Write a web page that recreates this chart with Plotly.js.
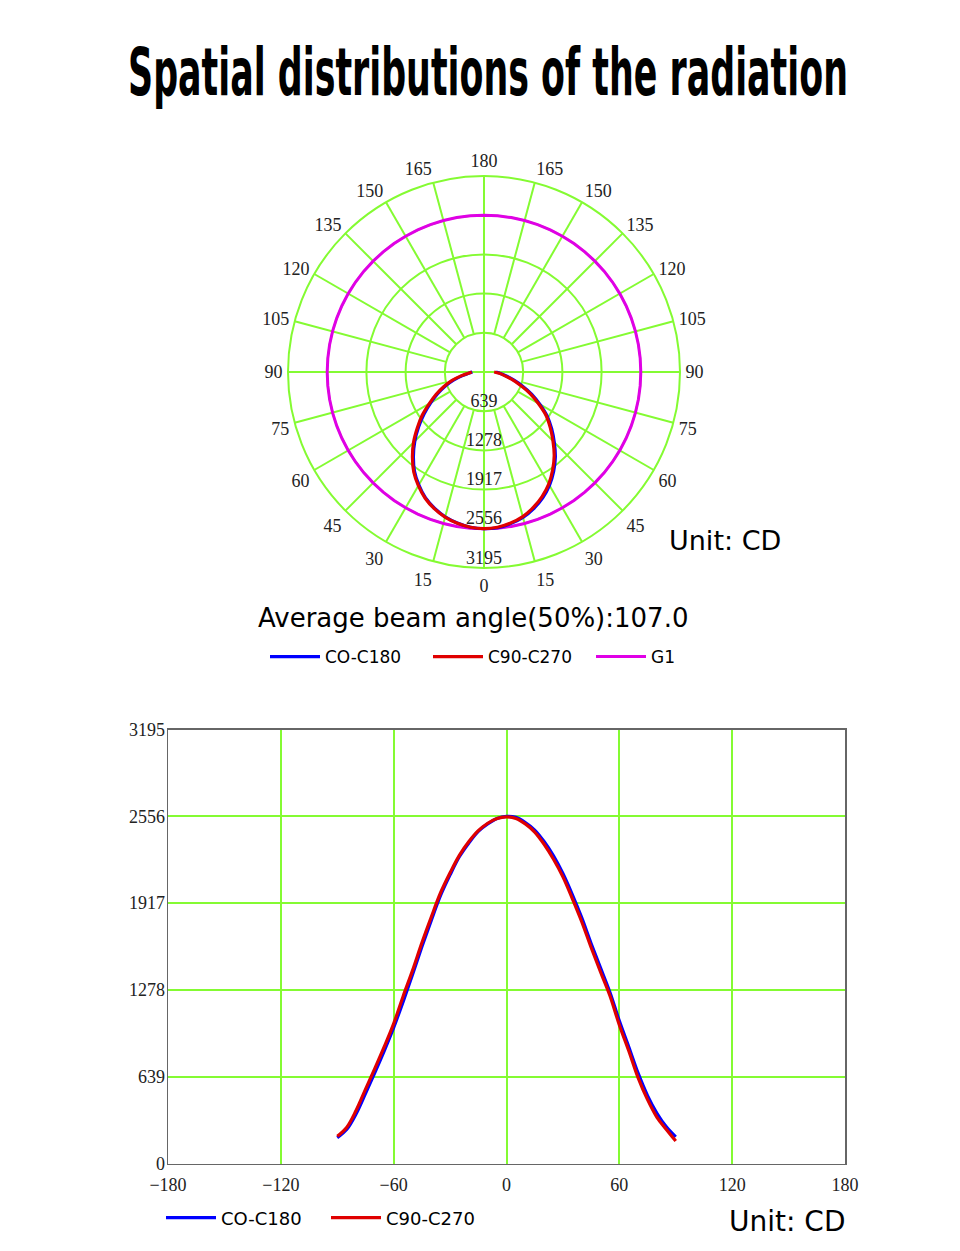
<!DOCTYPE html>
<html>
<head>
<meta charset="utf-8">
<script src="https://cdn.plot.ly/plotly-3.0.1.min.js"></script>
<style>html,body{margin:0;padding:0;background:#fff;}#chart{width:960px;height:1251px;}</style>
</head>
<body>
<div id="chart"></div>
<script>
// ---- data ----
const angles = [-90,-85,-80,-75,-70,-65,-60,-55,-50,-45,-40,-35,-30,-25,-20,-15,-10,-5,0,5,10,15,20,25,30,35,40,45,50,55,60,65,70,75,80,85,90];
const c0c180 = [190,250,365,515,670,830,1000,1190,1390,1595,1790,1975,2125,2260,2360,2445,2500,2540,2555,2548,2510,2455,2370,2265,2135,1980,1810,1620,1440,1260,1050,860,665,500,370,270,196];
const c90c270 = [200,265,390,545,700,860,1030,1230,1420,1625,1815,1995,2140,2270,2370,2450,2505,2540,2552,2540,2500,2440,2350,2240,2110,1950,1780,1590,1410,1235,1020,830,630,470,340,250,165];
const g1Value = 2556;
const g1Angles = Array.from({length:73}, (_, i) => i*5);
const radialTicks = [639,1278,1917,2556,3195];
const yTicks = [0,639,1278,1917,2556,3195];
const xTicks = [-180,-120,-60,0,60,120,180];
const angTickVals = Array.from({length:24}, (_, i) => i*15);
const angTickText = angTickVals.map(v => String(v <= 180 ? v : 360 - v));
const seriesNames = ['CO-C180','C90-C270','G1'];
const titleText = 'Spatial distributions of the radiation';
const beamText = 'Average beam angle(50%):107.0';
const unitText = 'Unit: CD';

// ---- styles ----
const green = '#84fb32';
const blue = '#0000ff';
const red = '#e00000';
const magenta = '#e000e6';
const serif = 'Liberation Serif, Times New Roman, serif';
const sans = 'DejaVu Sans, sans-serif';

// spokes (grid): full through the centre at multiples of 90, else from inner ring
const spokeTheta = [], spokeR = [];
angTickVals.forEach(a => {
  spokeTheta.push(a, a, null);
  spokeR.push(a % 90 === 0 ? 0 : radialTicks[0], radialTicks[radialTicks.length-1], null);
});

const traces = [
  {type:'scatterpolar', mode:'lines', theta:spokeTheta, r:spokeR, line:{color:green, width:2},
   showlegend:false, hoverinfo:'skip', connectgaps:false},
  {type:'scatterpolar', mode:'lines', name:seriesNames[2], theta:g1Angles, r:g1Angles.map(()=>g1Value),
   line:{color:magenta, width:3}, legend:'legend', legendrank:3},
  {type:'scatterpolar', mode:'lines', name:seriesNames[0], theta:angles, r:c0c180,
   line:{color:blue, width:3.2, shape:'spline'}, legend:'legend', legendrank:1},
  {type:'scatterpolar', mode:'lines', name:seriesNames[1], theta:angles, r:c90c270,
   line:{color:red, width:3.2, shape:'spline'}, legend:'legend', legendrank:2},
  {type:'scatterpolar', mode:'text', theta:radialTicks.map(()=>0), r:radialTicks,
   text:radialTicks.map(String), textposition:'top center',
   textfont:{family:serif, size:18, color:'#222'}, showlegend:false, hoverinfo:'skip'},
  {type:'scatter', mode:'lines', name:seriesNames[0], x:angles, y:c0c180, xaxis:'x', yaxis:'y',
   line:{color:blue, width:3.2, shape:'spline'}, legend:'legend2'},
  {type:'scatter', mode:'lines', name:seriesNames[1], x:angles, y:c90c270, xaxis:'x', yaxis:'y',
   line:{color:red, width:3.2, shape:'spline'}, legend:'legend2'}
];

const H = 1251, W = 960;
const px = v => v / W, py = v => 1 - v / H;

const layout = {
  width:W, height:H,
  margin:{l:0, r:0, t:0, b:0},
  paper_bgcolor:'#fff', plot_bgcolor:'#fff',
  title:{text:titleText, x:px(488), xanchor:'center', y:py(72), yanchor:'middle',
         font:{family:sans, size:66, color:'#000', weight:'bold'}},
  polar:{
    domain:{x:[px(288), px(680)], y:[py(568), py(176)]},
    bgcolor:'#fff',
    angularaxis:{rotation:-90, direction:'counterclockwise', tickmode:'array',
      tickvals:angTickVals, ticktext:angTickText, showgrid:false, showline:true,
      linecolor:green, linewidth:2, ticks:'outside', ticklen:1, tickcolor:'rgba(0,0,0,0)',
      tickfont:{family:serif, size:18, color:'#222'}},
    radialaxis:{range:[0, 3195], tickmode:'array', tickvals:radialTicks, showticklabels:false,
      showline:false, ticks:'', gridcolor:green, gridwidth:2}
  },
  xaxis:{domain:[px(168), px(845)], range:[-180,180], tickmode:'array', tickvals:xTicks,
    showgrid:true, gridcolor:green, gridwidth:2, zeroline:false, showline:true, mirror:true,
    linecolor:'#666', linewidth:1.5, ticks:'', ticklabelstandoff:4,
    tickfont:{family:serif, size:18, color:'#222'}, anchor:'y'},
  yaxis:{domain:[py(1163.5), py(729.5)], range:[0,3195], tickmode:'array', tickvals:yTicks,
    showgrid:true, gridcolor:green, gridwidth:2, zeroline:false, showline:true, mirror:true,
    linecolor:'#666', linewidth:1.5, ticks:'', ticklabelstandoff:-2,
    tickfont:{family:serif, size:18, color:'#222'}, anchor:'x'},
  legend:{orientation:'h', x:px(265), xanchor:'left', y:py(657), yanchor:'middle',
    entrywidth:98, entrywidthmode:'pixels', itemwidth:50, traceorder:'normal',
    font:{family:sans, size:17, color:'#000'}, bgcolor:'rgba(0,0,0,0)'},
  legend2:{orientation:'h', x:px(161), xanchor:'left', y:py(1218), yanchor:'middle',
    entrywidth:100, entrywidthmode:'pixels', itemwidth:50,
    font:{family:sans, size:18, color:'#000'}, bgcolor:'rgba(0,0,0,0)'},
  annotations:[
    {text:beamText, xref:'paper', yref:'paper', x:px(473), y:py(618), xanchor:'center', yanchor:'middle',
     showarrow:false, font:{family:sans, size:26, color:'#000'}},
    {text:unitText, xref:'paper', yref:'paper', x:px(725), y:py(540), xanchor:'center', yanchor:'middle',
     showarrow:false, font:{family:sans, size:27, color:'#000'}},
    {text:unitText, xref:'paper', yref:'paper', x:px(787), y:py(1221), xanchor:'center', yanchor:'middle',
     showarrow:false, font:{family:sans, size:28, color:'#000'}}
  ],
  showlegend:true
};

Plotly.newPlot('chart', traces, layout, {staticPlot:true, displayModeBar:false}).then(gd => {
  // condense the title horizontally to the reference's narrow lettering
  const g = gd.querySelector('.g-gtitle');
  const t = g && g.querySelector('text');
  if (t) {
    const bb = t.getBBox();
    const sx = 720 / bb.width;
    const cx = bb.x + bb.width / 2;
    g.setAttribute('transform', `translate(${488},0) scale(${sx},1) translate(${-cx},0)`);
  }
});
</script>
</body>
</html>
